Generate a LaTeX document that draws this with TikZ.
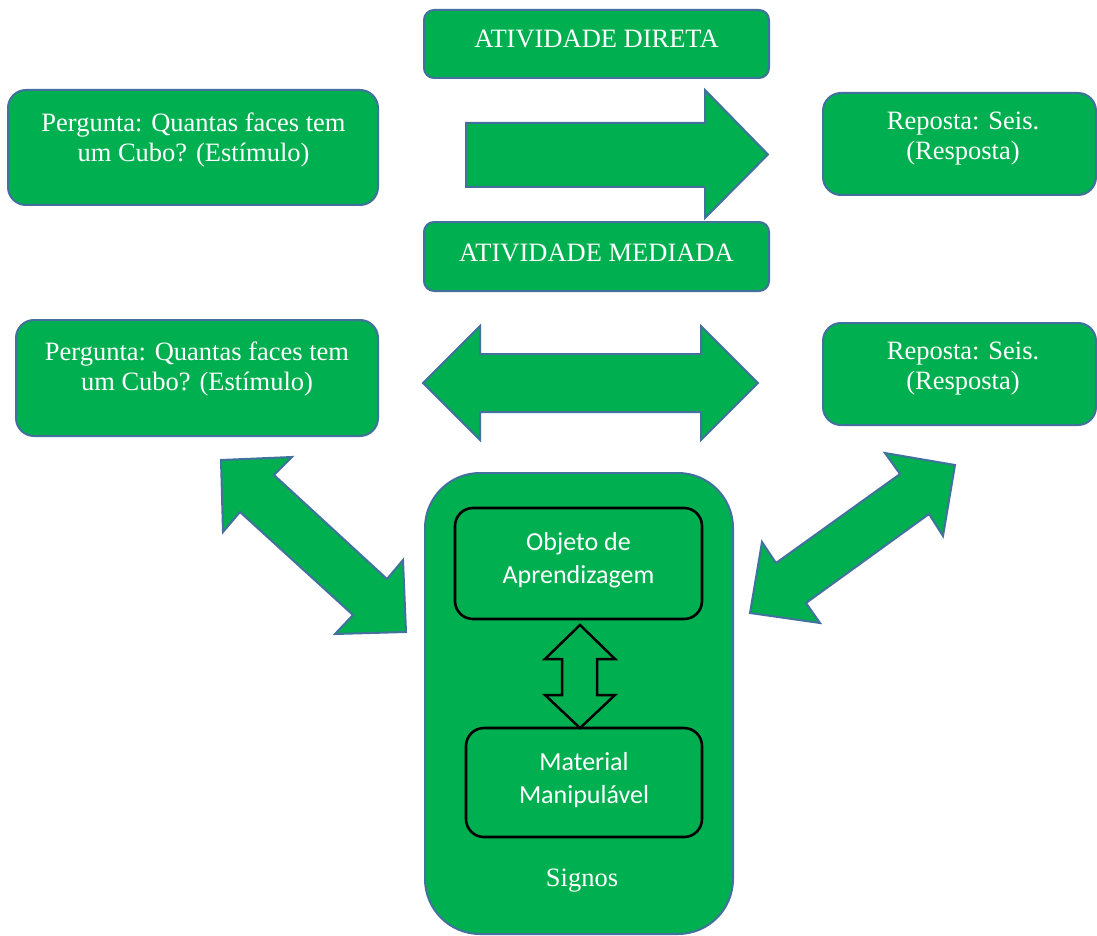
\documentclass[tikz,border=0pt]{standalone}
\usepackage{fontspec}
\setmainfont{Liberation Serif}
\newfontfamily\boxfont{Carlito}
\usetikzlibrary{calc}
\definecolor{fillgreen}{HTML}{00B050}
\definecolor{edgeblue}{HTML}{41719C}
\tikzset{
  gbox/.style={draw=edgeblue, line width=2pt, fill=fillgreen, rounded corners=#1,
    inner sep=0pt},
  gbox/.default=16pt,
  ibox/.style={draw=black, line width=2.6pt, fill=fillgreen, rounded corners=18pt,
    inner sep=0pt},
  txt/.style={text=white, align=center, inner sep=0pt,
    font=\fontsize{26.5}{30}\selectfont},
  itxt/.style={text=white, align=center, inner sep=0pt,
    font=\boxfont\fontsize{26}{33}\selectfont},
  blockarrow/.style={draw=edgeblue, line width=2pt, fill=fillgreen, line join=miter},
  smallarrow/.style={draw=black, line width=2.5pt, fill=fillgreen, line join=miter},
}
\begin{document}
\begin{tikzpicture}[x=1pt, y=-1pt]
\useasboundingbox (0,0) rectangle (1097,936);

% block arrows
\draw[blockarrow] (466,123) -- (705,123) -- (705,90) -- (768,154.5) -- (705,218)
  -- (705,187) -- (466,187) -- cycle;
\draw[blockarrow] (423,383) -- (480,326) -- (480,354) -- (701,354) -- (701,326)
  -- (758,383) -- (701,440) -- (701,412) -- (480,412) -- (480,440) -- cycle;
\draw[blockarrow] (221,460) -- (292,457) -- (274,475) -- (387,579) -- (403,560)
  -- (406,632) -- (335,634) -- (353,615) -- (240,512) -- (223,532) -- cycle;
\draw[blockarrow] (955,465) -- (943,536) -- (929,514) -- (806,603) -- (820,623)
  -- (750,613) -- (762,542) -- (776,563) -- (900,474) -- (885,453) -- cycle;

% header boxes
\node[gbox=10pt, minimum width=345pt, minimum height=68pt] (direta) at (596.5,44) {};
\node[txt] at ($(direta.center)+(0,-5)$) (diretaT) {ATIVIDADE DIRETA};
\node[gbox=10pt, minimum width=345pt, minimum height=69pt] (mediada) at (596.5,256.5) {};
\node[txt] at ($(mediada.center)+(0,-4)$) (mediadaT) {ATIVIDADE MEDIADA};

% question and answer boxes
\node[gbox=18pt, minimum width=370pt, minimum height=115pt] (pergA) at (193,147.5) {};
\node[txt] at ($(pergA.center)+(0.5,-8)$) (pergAT) {Pergunta: Quantas faces tem\\um Cubo? (Estímulo)};
\node[gbox=18pt, minimum width=273pt, minimum height=102pt] (respA) at (959.5,144) {};
\node[txt] at ($(respA.center)+(3.5,-5.5)$) (respAT) {Reposta: Seis.\\(Resposta)};

\node[gbox=18pt, minimum width=362pt, minimum height=116pt] (pergB) at (197,378) {};
\node[txt] at ($(pergB.center)+(0,-9)$) (pergBT) {Pergunta: Quantas faces tem\\um Cubo? (Estímulo)};
\node[gbox=18pt, minimum width=273pt, minimum height=102pt] (respB) at (959.5,374) {};
\node[txt] at ($(respB.center)+(3.5,-5.5)$) (respBT) {Reposta: Seis.\\(Resposta)};

% signs container
\node[gbox=55pt, minimum width=308pt, minimum height=461pt] (signos) at (579,703.5) {};
\node[txt] at (582,881) (signosT) {Signos};

\node[ibox, minimum width=247pt, minimum height=111pt] (objeto) at (578.5,563.5) {};
\node[itxt] at ($(objeto.center)+(0,-3)$) (objetoT) {Objeto de\\Aprendizagem};
\node[ibox, minimum width=236pt, minimum height=109pt] (material) at (584,782.5) {};
\node[itxt] at ($(material.center)+(0,-2)$) (materialT) {Material\\Manipulável};

% two-way arrow between the inner boxes
\draw[smallarrow] (580,625) -- (615,659) -- (597,659) -- (597,695) -- (615,695)
  -- (580,728) -- (545,695) -- (562,695) -- (562,659) -- (545,659) -- cycle;
\end{tikzpicture}
\end{document}
